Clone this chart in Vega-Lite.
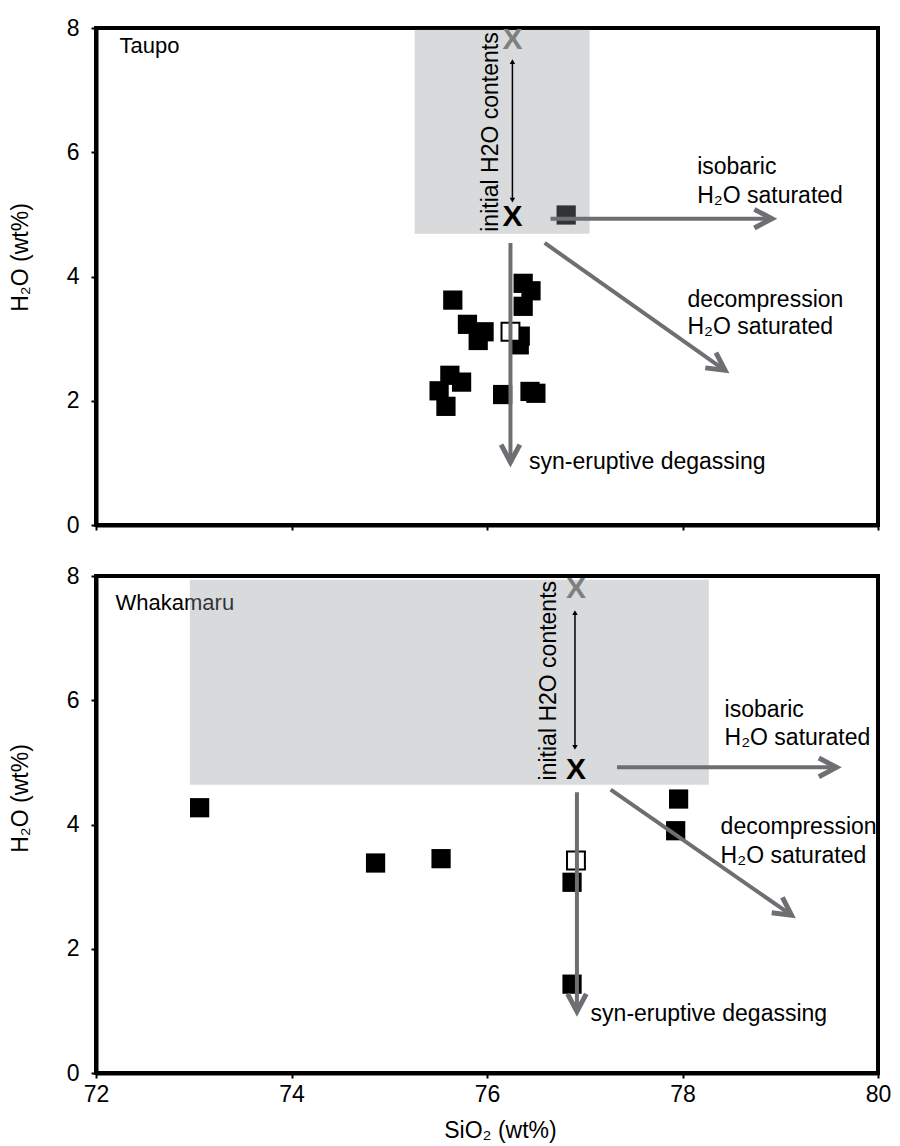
{
  "$schema": "https://vega.github.io/schema/vega-lite/v6.json",
  "padding": {"left": 7, "top": 15, "right": 5, "bottom": 0},
  "spacing": 24,
  "config": {
    "font": "Liberation Sans",
    "view": {"stroke": "black", "strokeWidth": 4},
    "axis": {
      "domainColor": "black", "domainWidth": 4,
      "tickColor": "black", "tickWidth": 2, "tickSize": 5,
      "labelFont": "Liberation Sans", "labelFontSize": 23, "labelColor": "black", "labelFlush": false,
      "titleFont": "Liberation Sans", "titleFontSize": 23, "titleFontWeight": "normal", "titleColor": "black",
      "grid": false
    }
  },
  "datasets": {
    "points": [
      {"panel": "Taupo", "SiO2": 75.65, "H2O": 3.62, "type": "filled"},
      {"panel": "Taupo", "SiO2": 75.80, "H2O": 3.23, "type": "filled"},
      {"panel": "Taupo", "SiO2": 75.91, "H2O": 2.97, "type": "filled"},
      {"panel": "Taupo", "SiO2": 75.97, "H2O": 3.11, "type": "filled"},
      {"panel": "Taupo", "SiO2": 76.37, "H2O": 3.89, "type": "filled"},
      {"panel": "Taupo", "SiO2": 76.45, "H2O": 3.77, "type": "filled"},
      {"panel": "Taupo", "SiO2": 76.37, "H2O": 3.52, "type": "filled"},
      {"panel": "Taupo", "SiO2": 76.34, "H2O": 3.04, "type": "filled"},
      {"panel": "Taupo", "SiO2": 76.33, "H2O": 2.90, "type": "filled"},
      {"panel": "Taupo", "SiO2": 75.62, "H2O": 2.41, "type": "filled"},
      {"panel": "Taupo", "SiO2": 75.74, "H2O": 2.30, "type": "filled"},
      {"panel": "Taupo", "SiO2": 75.51, "H2O": 2.16, "type": "filled"},
      {"panel": "Taupo", "SiO2": 75.58, "H2O": 1.91, "type": "filled"},
      {"panel": "Taupo", "SiO2": 76.16, "H2O": 2.10, "type": "filled"},
      {"panel": "Taupo", "SiO2": 76.44, "H2O": 2.15, "type": "filled"},
      {"panel": "Taupo", "SiO2": 76.50, "H2O": 2.12, "type": "filled"},
      {"panel": "Taupo", "SiO2": 76.81, "H2O": 4.99, "type": "filled"},
      {"panel": "Taupo", "SiO2": 76.24, "H2O": 3.11, "type": "open"},
      {"panel": "Whakamaru", "SiO2": 73.06, "H2O": 4.27, "type": "filled"},
      {"panel": "Whakamaru", "SiO2": 74.86, "H2O": 3.38, "type": "filled"},
      {"panel": "Whakamaru", "SiO2": 75.53, "H2O": 3.45, "type": "filled"},
      {"panel": "Whakamaru", "SiO2": 76.87, "H2O": 3.07, "type": "filled"},
      {"panel": "Whakamaru", "SiO2": 76.87, "H2O": 1.43, "type": "filled"},
      {"panel": "Whakamaru", "SiO2": 77.96, "H2O": 4.41, "type": "filled"},
      {"panel": "Whakamaru", "SiO2": 77.93, "H2O": 3.90, "type": "filled"},
      {"panel": "Whakamaru", "SiO2": 76.91, "H2O": 3.42, "type": "open"}
    ],
    "boxes": [
      {"panel": "Taupo", "SiO2": 75.26, "SiO2_end": 77.05, "H2O": 4.69, "H2O_end": 7.97},
      {"panel": "Whakamaru", "SiO2": 72.96, "SiO2_end": 78.27, "H2O": 4.64, "H2O_end": 7.94}
    ],
    "arrows": [
      {"panel": "Taupo", "kind": "isobaric", "SiO2": 78.915, "H2O": 4.93, "SiO2_start": 76.65, "H2O_start": 4.93},
      {"panel": "Taupo", "kind": "decompression", "SiO2": 78.435, "H2O": 2.49, "SiO2_start": 76.59, "H2O_start": 4.54},
      {"panel": "Taupo", "kind": "syn-eruptive", "SiO2": 76.24, "H2O": 1.01, "SiO2_start": 76.24, "H2O_start": 4.54},
      {"panel": "Whakamaru", "kind": "isobaric", "SiO2": 79.575, "H2O": 4.92, "SiO2_start": 77.33, "H2O_start": 4.92},
      {"panel": "Whakamaru", "kind": "decompression", "SiO2": 79.115, "H2O": 2.54, "SiO2_start": 77.265, "H2O_start": 4.56},
      {"panel": "Whakamaru", "kind": "syn-eruptive", "SiO2": 76.92, "H2O": 0.99, "SiO2_start": 76.92, "H2O_start": 4.52}
    ],
    "initial": [
      {"panel": "Taupo", "end": "top", "SiO2": 76.26, "H2O": 7.46},
      {"panel": "Taupo", "end": "bottom", "SiO2": 76.26, "H2O": 5.23},
      {"panel": "Whakamaru", "end": "top", "SiO2": 76.90, "H2O": 7.41},
      {"panel": "Whakamaru", "end": "bottom", "SiO2": 76.90, "H2O": 5.24}
    ],
    "crosses": [
      {"panel": "Taupo", "state": "upper", "SiO2": 76.26, "H2O": 7.80},
      {"panel": "Taupo", "state": "lower", "SiO2": 76.26, "H2O": 4.96},
      {"panel": "Whakamaru", "state": "upper", "SiO2": 76.91, "H2O": 7.79},
      {"panel": "Whakamaru", "state": "lower", "SiO2": 76.91, "H2O": 4.87}
    ],
    "names": [
      {"panel": "Taupo", "SiO2": 72.24, "H2O": 7.71, "label": "Taupo"},
      {"panel": "Whakamaru", "SiO2": 72.2, "H2O": 7.57, "label": "Whakamaru"}
    ],
    "notes": [
      {"panel": "Taupo", "SiO2": 78.15, "H2O": 5.77, "label": "isobaric"},
      {"panel": "Taupo", "SiO2": 78.15, "H2O": 5.30, "label": "H₂O saturated"},
      {"panel": "Taupo", "SiO2": 78.05, "H2O": 3.62, "label": "decompression"},
      {"panel": "Taupo", "SiO2": 78.05, "H2O": 3.19, "label": "H₂O saturated"},
      {"panel": "Taupo", "SiO2": 76.43, "H2O": 1.01, "label": "syn-eruptive degassing"},
      {"panel": "Whakamaru", "SiO2": 78.43, "H2O": 5.85, "label": "isobaric"},
      {"panel": "Whakamaru", "SiO2": 78.43, "H2O": 5.40, "label": "H₂O saturated"},
      {"panel": "Whakamaru", "SiO2": 78.39, "H2O": 3.96, "label": "decompression"},
      {"panel": "Whakamaru", "SiO2": 78.39, "H2O": 3.49, "label": "H₂O saturated"},
      {"panel": "Whakamaru", "SiO2": 77.06, "H2O": 0.95, "label": "syn-eruptive degassing"}
    ],
    "vnotes": [
      {"panel": "Taupo", "SiO2": 76.04, "H2O": 4.72, "label": "initial H2O contents"},
      {"panel": "Whakamaru", "SiO2": 76.63, "H2O": 4.71, "label": "initial H2O contents"}
    ]
  },
  "vconcat": [
    {
      "width": 782, "height": 497,
      "encoding": {
        "x": {"field": "SiO2", "type": "quantitative", "scale": {"domain": [72, 80], "nice": false, "zero": false},
              "axis": {"values": [72, 74, 76, 78, 80], "labels": false, "title": null}},
        "y": {"field": "H2O", "type": "quantitative", "scale": {"domain": [0, 8], "nice": false, "zero": false},
              "axis": {"values": [0, 2, 4, 6, 8], "title": "H₂O (wt%)", "labelPadding": 12, "titleX": -69, "titleY": 229, "titleBaseline": "alphabetic", "titleAngle": 270}}
      },
      "layer": [
        {"data": {"name": "names"}, "transform": [{"filter": "datum.panel === 'Taupo'"}],
         "mark": {"type": "text", "align": "left", "baseline": "middle", "fontSize": 22, "font": "Liberation Sans", "color": "black"},
         "encoding": {"text": {"field": "label"}}},
        {"data": {"name": "points"}, "transform": [{"filter": "datum.panel === 'Taupo' && datum.type === 'filled'"}],
         "mark": {"type": "point", "shape": "square", "filled": true, "size": 370, "color": "black", "opacity": 1}},
        {"data": {"name": "points"}, "transform": [{"filter": "datum.panel === 'Taupo' && datum.type === 'open'"}],
         "mark": {"type": "point", "shape": "square", "size": 320, "fill": "white", "fillOpacity": 1, "stroke": "black", "strokeWidth": 2, "opacity": 1}},
        {"data": {"name": "boxes"}, "transform": [{"filter": "datum.panel === 'Taupo'"}],
         "mark": {"type": "rect", "color": "#919499", "opacity": 0.345},
         "encoding": {"x2": {"field": "SiO2_end"}, "y2": {"field": "H2O_end"}}},
        {"data": {"name": "arrows"}, "transform": [{"filter": "datum.panel === 'Taupo'"}],
         "mark": {"type": "rule", "color": "#6e6f72", "strokeWidth": 4},
         "encoding": {"x2": {"field": "SiO2_start"}, "y2": {"field": "H2O_start"}}},
        {"data": {"name": "arrows"}, "transform": [{"filter": "datum.panel === 'Taupo' && datum.kind === 'isobaric'"}],
         "mark": {"type": "point", "shape": "M-1.6,-0.85L0,0L-1.6,0.85", "filled": false, "stroke": "#6e6f72", "strokeWidth": 5, "size": 484, "angle": 0, "opacity": 1, "strokeJoin": "miter"}},
        {"data": {"name": "arrows"}, "transform": [{"filter": "datum.panel === 'Taupo' && datum.kind === 'decompression'"}],
         "mark": {"type": "point", "shape": "M-1.6,-0.85L0,0L-1.6,0.85", "filled": false, "stroke": "#6e6f72", "strokeWidth": 5, "size": 484, "angle": 35, "opacity": 1, "strokeJoin": "miter"}},
        {"data": {"name": "arrows"}, "transform": [{"filter": "datum.panel === 'Taupo' && datum.kind === 'syn-eruptive'"}],
         "mark": {"type": "point", "shape": "M-1.6,-0.85L0,0L-1.6,0.85", "filled": false, "stroke": "#6e6f72", "strokeWidth": 5, "size": 484, "angle": 90, "opacity": 1, "strokeJoin": "miter"}},
        {"data": {"name": "initial"}, "transform": [{"filter": "datum.panel === 'Taupo'"}],
         "mark": {"type": "line", "color": "black", "strokeWidth": 1.5}},
        {"data": {"name": "initial"}, "transform": [{"filter": "datum.panel === 'Taupo'"}],
         "mark": {"type": "point", "filled": true, "color": "black", "size": 30, "opacity": 1},
         "encoding": {"shape": {"field": "end", "type": "nominal", "scale": {"domain": ["top", "bottom"], "range": ["triangle-up", "triangle-down"]}, "legend": null}}},
        {"data": {"name": "crosses"}, "transform": [{"filter": "datum.panel === 'Taupo'"}],
         "mark": {"type": "text", "text": "X", "fontSize": 30, "fontWeight": "bold", "font": "Liberation Sans", "align": "center", "baseline": "middle"},
         "encoding": {"color": {"field": "state", "type": "nominal", "scale": {"domain": ["upper", "lower"], "range": ["#7f7f7f", "#000000"]}, "legend": null}}},
        {"data": {"name": "notes"}, "transform": [{"filter": "datum.panel === 'Taupo'"}],
         "mark": {"type": "text", "align": "left", "baseline": "middle", "fontSize": 23, "font": "Liberation Sans", "color": "black"},
         "encoding": {"text": {"field": "label"}}},
        {"data": {"name": "vnotes"}, "transform": [{"filter": "datum.panel === 'Taupo'"}],
         "mark": {"type": "text", "angle": 270, "align": "left", "baseline": "middle", "fontSize": 23, "font": "Liberation Sans", "color": "black"},
         "encoding": {"text": {"field": "label"}}}
      ]
    },
    {
      "width": 782, "height": 497,
      "encoding": {
        "x": {"field": "SiO2", "type": "quantitative", "scale": {"domain": [72, 80], "nice": false, "zero": false},
              "axis": {"values": [72, 74, 76, 78, 80], "title": "SiO₂ (wt%)", "labelPadding": 5, "titleX": 404, "titleY": 64, "titleBaseline": "alphabetic"}},
        "y": {"field": "H2O", "type": "quantitative", "scale": {"domain": [0, 8], "nice": false, "zero": false},
              "axis": {"values": [0, 2, 4, 6, 8], "title": "H₂O (wt%)", "labelPadding": 12, "titleX": -69, "titleY": 222, "titleBaseline": "alphabetic", "titleAngle": 270}}
      },
      "layer": [
        {"data": {"name": "names"}, "transform": [{"filter": "datum.panel === 'Whakamaru'"}],
         "mark": {"type": "text", "align": "left", "baseline": "middle", "fontSize": 22, "font": "Liberation Sans", "color": "black"},
         "encoding": {"text": {"field": "label"}}},
        {"data": {"name": "points"}, "transform": [{"filter": "datum.panel === 'Whakamaru' && datum.type === 'filled'"}],
         "mark": {"type": "point", "shape": "square", "filled": true, "size": 370, "color": "black", "opacity": 1}},
        {"data": {"name": "points"}, "transform": [{"filter": "datum.panel === 'Whakamaru' && datum.type === 'open'"}],
         "mark": {"type": "point", "shape": "square", "size": 320, "fill": "white", "fillOpacity": 1, "stroke": "black", "strokeWidth": 2, "opacity": 1}},
        {"data": {"name": "boxes"}, "transform": [{"filter": "datum.panel === 'Whakamaru'"}],
         "mark": {"type": "rect", "color": "#919499", "opacity": 0.345},
         "encoding": {"x2": {"field": "SiO2_end"}, "y2": {"field": "H2O_end"}}},
        {"data": {"name": "arrows"}, "transform": [{"filter": "datum.panel === 'Whakamaru'"}],
         "mark": {"type": "rule", "color": "#6e6f72", "strokeWidth": 4},
         "encoding": {"x2": {"field": "SiO2_start"}, "y2": {"field": "H2O_start"}}},
        {"data": {"name": "arrows"}, "transform": [{"filter": "datum.panel === 'Whakamaru' && datum.kind === 'isobaric'"}],
         "mark": {"type": "point", "shape": "M-1.6,-0.85L0,0L-1.6,0.85", "filled": false, "stroke": "#6e6f72", "strokeWidth": 5, "size": 484, "angle": 0, "opacity": 1, "strokeJoin": "miter"}},
        {"data": {"name": "arrows"}, "transform": [{"filter": "datum.panel === 'Whakamaru' && datum.kind === 'decompression'"}],
         "mark": {"type": "point", "shape": "M-1.6,-0.85L0,0L-1.6,0.85", "filled": false, "stroke": "#6e6f72", "strokeWidth": 5, "size": 484, "angle": 35, "opacity": 1, "strokeJoin": "miter"}},
        {"data": {"name": "arrows"}, "transform": [{"filter": "datum.panel === 'Whakamaru' && datum.kind === 'syn-eruptive'"}],
         "mark": {"type": "point", "shape": "M-1.6,-0.85L0,0L-1.6,0.85", "filled": false, "stroke": "#6e6f72", "strokeWidth": 5, "size": 484, "angle": 90, "opacity": 1, "strokeJoin": "miter"}},
        {"data": {"name": "initial"}, "transform": [{"filter": "datum.panel === 'Whakamaru'"}],
         "mark": {"type": "line", "color": "black", "strokeWidth": 1.5}},
        {"data": {"name": "initial"}, "transform": [{"filter": "datum.panel === 'Whakamaru'"}],
         "mark": {"type": "point", "filled": true, "color": "black", "size": 30, "opacity": 1},
         "encoding": {"shape": {"field": "end", "type": "nominal", "scale": {"domain": ["top", "bottom"], "range": ["triangle-up", "triangle-down"]}, "legend": null}}},
        {"data": {"name": "crosses"}, "transform": [{"filter": "datum.panel === 'Whakamaru'"}],
         "mark": {"type": "text", "text": "X", "fontSize": 30, "fontWeight": "bold", "font": "Liberation Sans", "align": "center", "baseline": "middle"},
         "encoding": {"color": {"field": "state", "type": "nominal", "scale": {"domain": ["upper", "lower"], "range": ["#7f7f7f", "#000000"]}, "legend": null}}},
        {"data": {"name": "notes"}, "transform": [{"filter": "datum.panel === 'Whakamaru'"}],
         "mark": {"type": "text", "align": "left", "baseline": "middle", "fontSize": 23, "font": "Liberation Sans", "color": "black"},
         "encoding": {"text": {"field": "label"}}},
        {"data": {"name": "vnotes"}, "transform": [{"filter": "datum.panel === 'Whakamaru'"}],
         "mark": {"type": "text", "angle": 270, "align": "left", "baseline": "middle", "fontSize": 23, "font": "Liberation Sans", "color": "black"},
         "encoding": {"text": {"field": "label"}}}
      ]
    }
  ]
}
